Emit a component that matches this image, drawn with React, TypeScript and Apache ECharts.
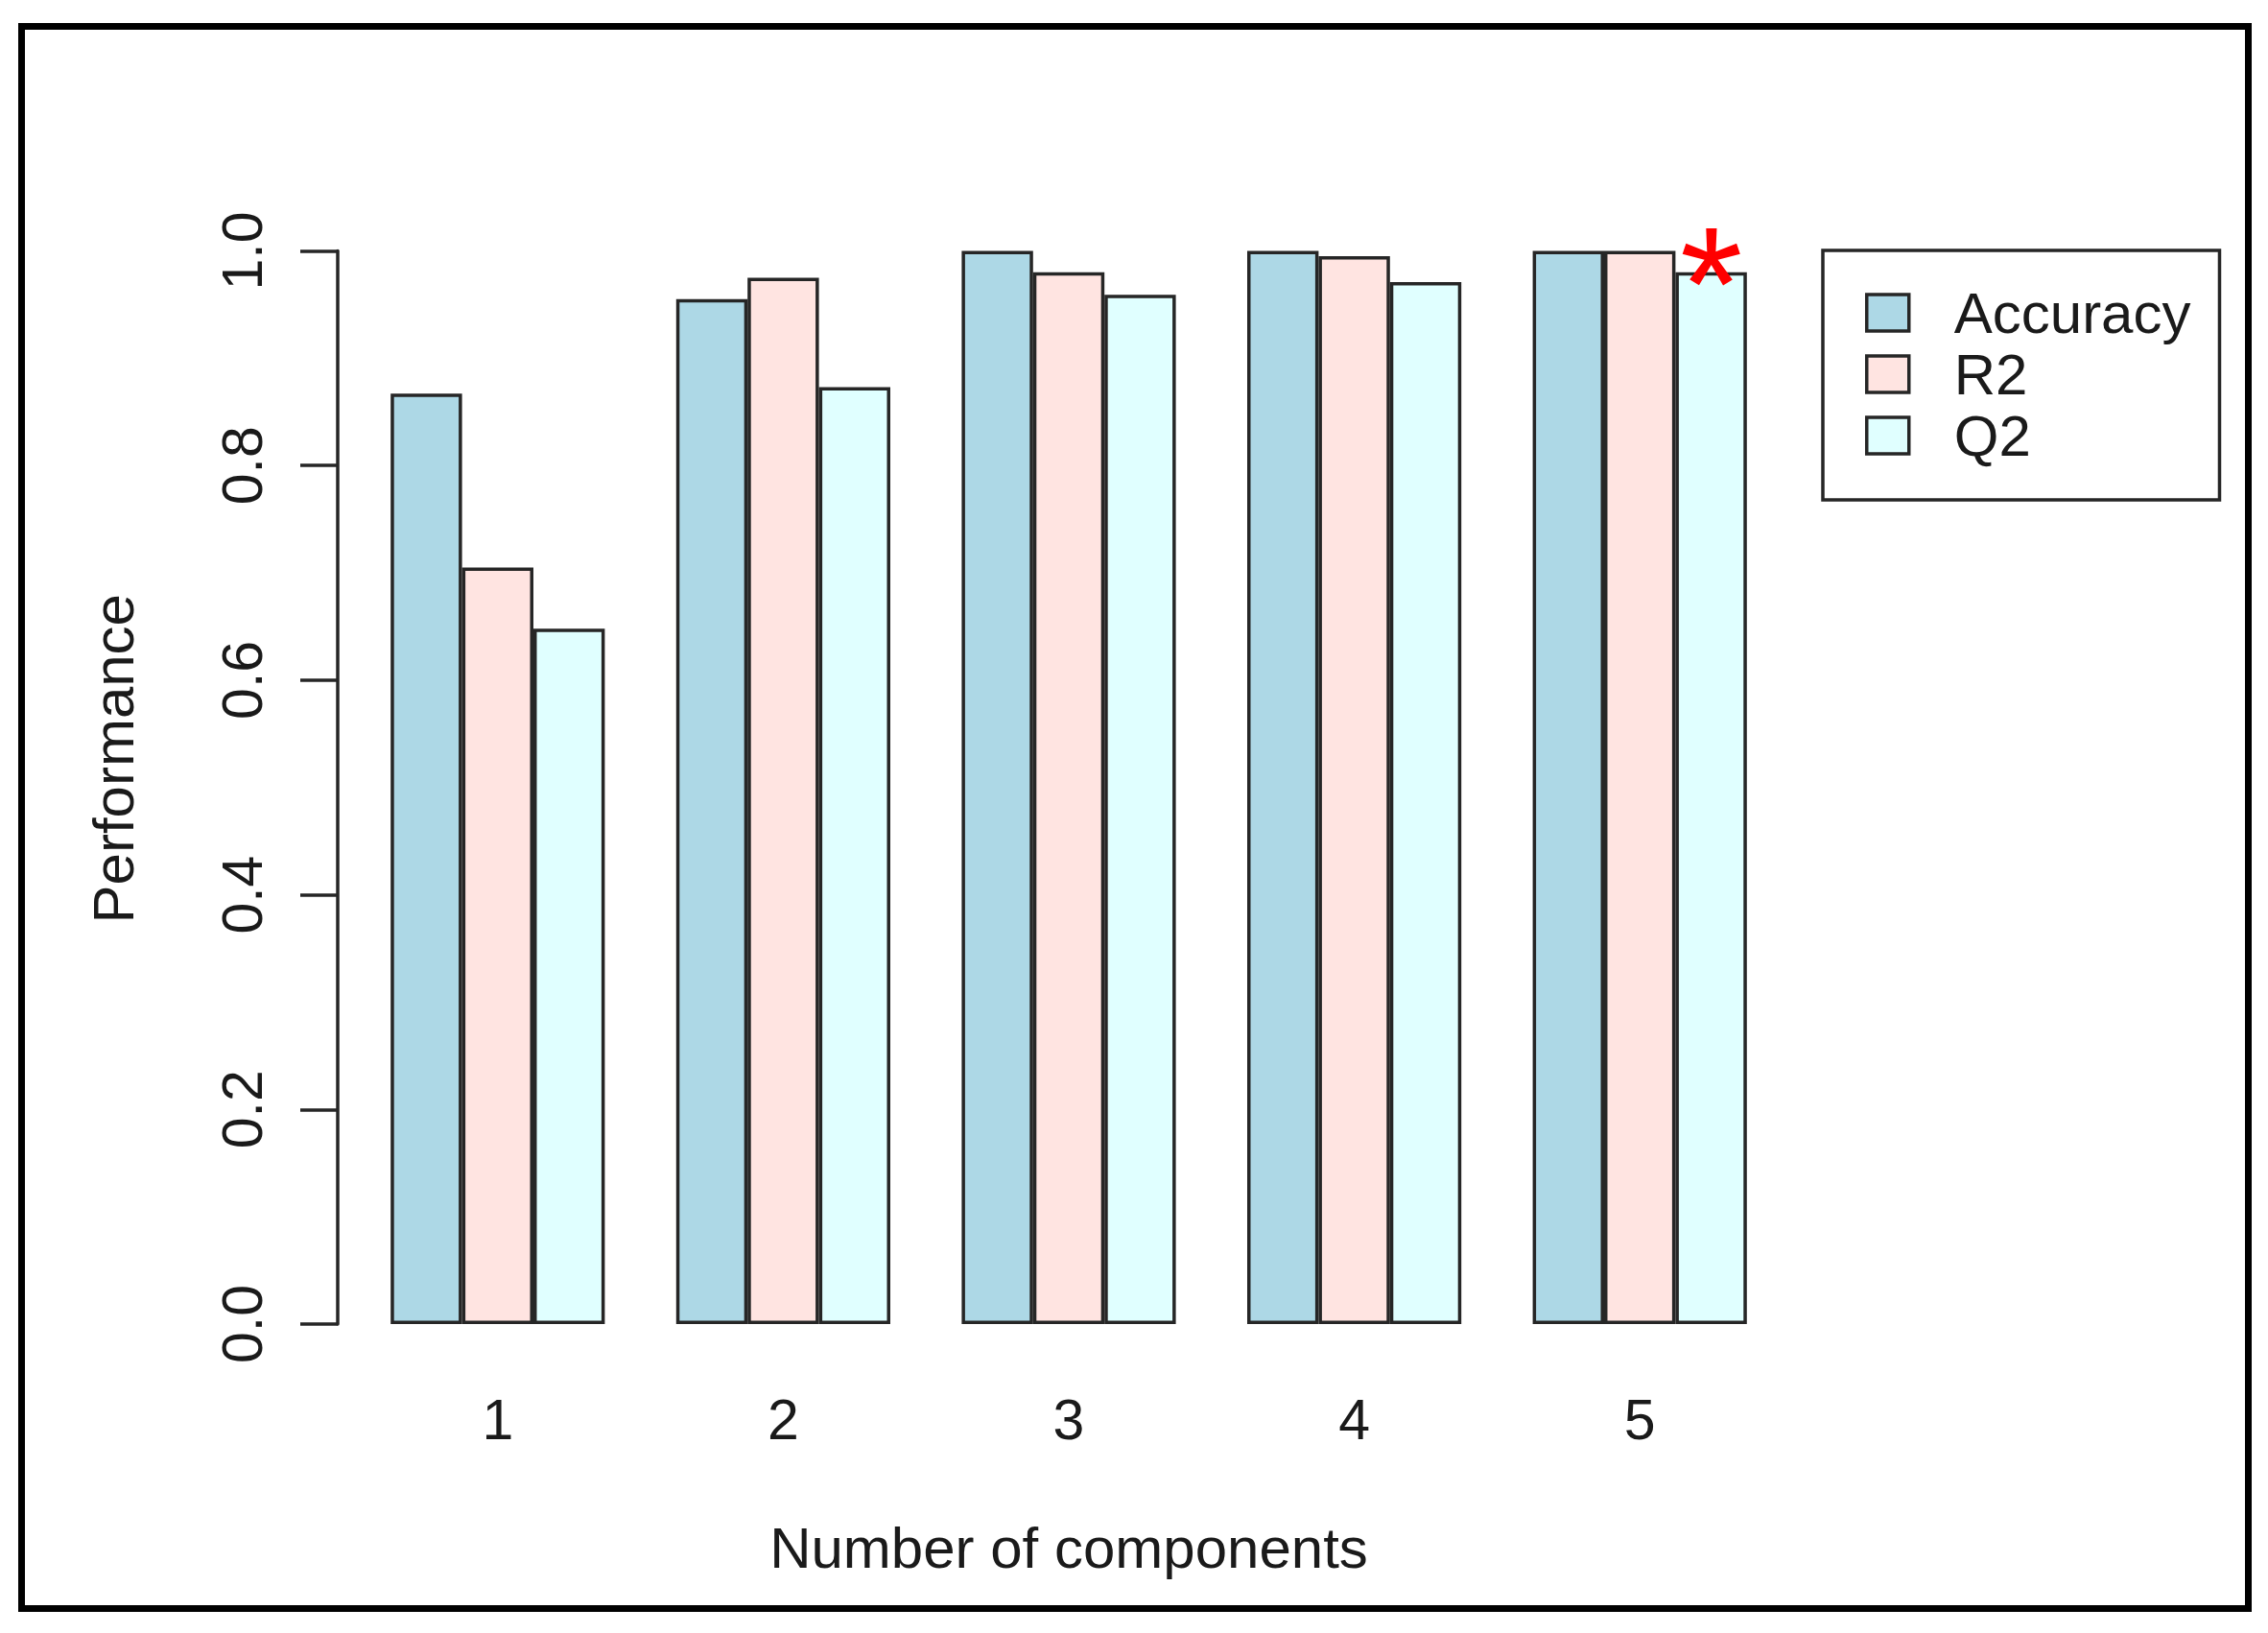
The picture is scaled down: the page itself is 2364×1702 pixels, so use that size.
import React, { useEffect, useRef } from "react";
import * as echarts from "echarts";

const categories = ["1", "2", "3", "4", "5"];
const accuracy = [0.867, 0.955, 1.0, 1.0, 1.0];
const r2 = [0.705, 0.975, 0.98, 0.995, 1.0];
const q2 = [0.648, 0.873, 0.959, 0.971, 0.98];
const seriesNames = ["Accuracy", "R2", "Q2"];
const seriesColors = ["#ADD8E6", "#FFE4E1", "#E0FFFF"];
const starIndex = 4;
const yTicks = { min: 0, max: 1, interval: 0.2 };

const FONT = "Liberation Sans, Arial, sans-serif";
const TEXT = "#1a1a1a";
const EDGE = "#262626";

export default function App() {
  const ref = useRef<HTMLDivElement>(null);
  useEffect(() => {
    if (!ref.current) return;
    const chart = echarts.init(ref.current, null, { renderer: "svg" });
    const barStyle = (c: string) => ({ color: c, borderColor: EDGE, borderWidth: 3.5 });
    const q2Data = q2.map((v, i) =>
      i === starIndex
        ? {
            value: v,
            label: {
              show: true,
              position: ["50%", 12],
              align: "center",
              verticalAlign: "middle",
              formatter: "*",
              color: "#ff0000",
              fontSize: 168,
              fontWeight: "normal",
              fontFamily: FONT,
            },
          }
        : v
    );
    chart.setOption({
      animation: false,
      backgroundColor: "#ffffff",
      textStyle: { fontFamily: FONT },
      grid: { left: 370, right: 506, top: 261.5, bottom: 322, containLabel: false },
      legend: {
        orient: "vertical",
        left: 1900,
        top: 261,
        data: seriesNames,
        icon: "rect",
        itemWidth: 44,
        itemHeight: 38,
        itemGap: 4,
        padding: [35, 30, 37, 44],
        borderColor: EDGE,
        borderWidth: 3.5,
        backgroundColor: "#ffffff",
        itemStyle: { borderColor: EDGE, borderWidth: 3.5 },
        textStyle: {
          fontSize: 60,
          lineHeight: 60,
          color: TEXT,
          fontFamily: FONT,
          padding: [0, 0, 0, 42],
        },
      },
      xAxis: {
        type: "category",
        data: categories,
        name: "Number of components",
        nameLocation: "middle",
        nameGap: 203,
        nameTextStyle: { fontSize: 60, color: TEXT, fontFamily: FONT, verticalAlign: "top" },
        axisLine: { show: false },
        axisTick: { show: false },
        axisLabel: { fontSize: 59, color: TEXT, margin: 70, fontFamily: FONT },
        splitLine: { show: false },
      },
      yAxis: {
        type: "value",
        min: yTicks.min,
        max: yTicks.max,
        interval: yTicks.interval,
        offset: 18,
        name: "Performance",
        nameLocation: "middle",
        nameRotate: 90,
        nameGap: 204,
        nameTextStyle: {
          fontSize: 60,
          color: TEXT,
          fontFamily: FONT,
          padding: [0, 0, 0, 60],
        },
        axisLine: { show: true, lineStyle: { color: EDGE, width: 3.5 } },
        axisTick: { show: true, length: 39, lineStyle: { color: EDGE, width: 3.5 } },
        axisLabel: {
          rotate: 90,
          fontSize: 59,
          color: TEXT,
          margin: 70,
          fontFamily: FONT,
          formatter: (v: number) => v.toFixed(1),
        },
        splitLine: { show: false },
      },
      series: [
        {
          name: seriesNames[0],
          type: "bar",
          data: accuracy,
          itemStyle: barStyle(seriesColors[0]),
          barGap: "0%",
          barCategoryGap: "25%",
        },
        {
          name: seriesNames[1],
          type: "bar",
          data: r2,
          itemStyle: barStyle(seriesColors[1]),
          barGap: "0%",
          barCategoryGap: "25%",
        },
        {
          name: seriesNames[2],
          type: "bar",
          data: q2Data,
          itemStyle: barStyle(seriesColors[2]),
          barGap: "0%",
          barCategoryGap: "25%",
        },
      ],
      graphic: [
        {
          type: "rect",
          shape: { x: 22.5, y: 27.5, width: 2321, height: 1649 },
          style: { fill: "none", stroke: "#000000", lineWidth: 7 },
          z: 100,
        },
      ],
    });
    return () => chart.dispose();
  }, []);
  return (
    <div
      ref={ref}
      style={{ position: "fixed", left: 0, top: 0, width: 2364, height: 1702, background: "#fff" }}
    />
  );
}
